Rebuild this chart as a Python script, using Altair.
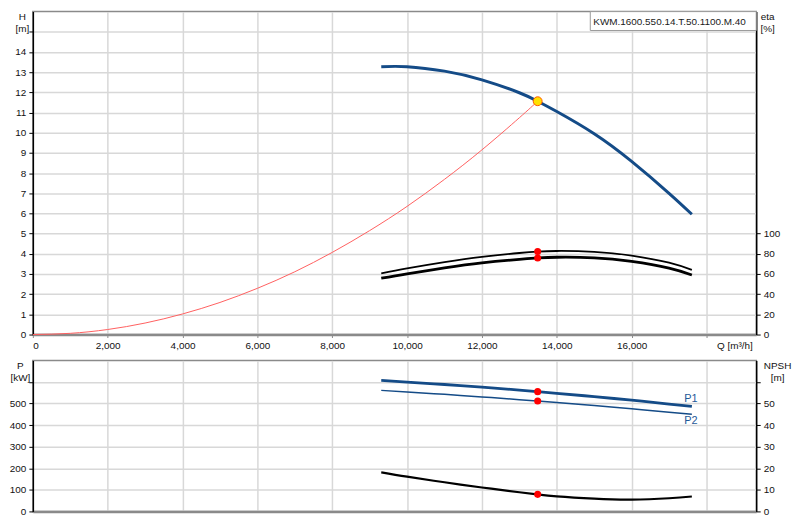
import altair as alt
import pandas as pd

# ---- data ----
Q = [9310, 10000, 11000, 12000, 13000, 13490, 14000, 15000, 16000, 17000, 17610]
H = [13.27, 13.27, 13.05, 12.62, 11.98, 11.56, 11.05, 9.95, 8.58, 7.0, 5.96]
ETA1 = [60.7, 65.6, 71.8, 77.0, 80.8, 82.2, 82.8, 82.0, 78.2, 71.2, 64.0]
ETA2 = [55.8, 60.2, 66.0, 71.0, 74.5, 75.8, 76.6, 76.0, 72.4, 65.8, 59.0]
P1 = [607, 599.7, 588.2, 575.7, 562.2, 555.2, 547.6, 532.0, 515.4, 497.7, 486.4]
P2 = [561, 553.7, 542.6, 530.7, 518.0, 511.5, 504.6, 490.5, 475.6, 459.9, 450]
NPSH = [18.1, 16.1, 13.5, 11.1, 8.9, 7.9, 7.0, 5.9, 5.45, 6.1, 6.9]

Q_SYS = [0, 1000, 2000, 3000, 4000, 5000, 6000, 7000, 8000, 9000, 10000, 11000, 12000, 13000, 13490]
H_SYS = [0, 0.06, 0.25, 0.57, 1.02, 1.59, 2.29, 3.11, 4.07, 5.15, 6.35, 7.69, 9.15, 10.74, 11.56]

Q_DUTY = [13490]
H_DUTY = [11.56]
ETA_DUTY = [82.2, 75.8]
P_DUTY = [555.2, 511.5]
NPSH_DUTY = [7.9]

SERIES_LABELS = ["P1", "P2"]
MODEL = "KWM.1600.550.14.T.50.1100.M.40"

X_TICKS = [0, 2000, 4000, 6000, 8000, 10000, 12000, 14000, 16000, 18000]
H_TICKS = list(range(0, 16))
ETA_TICKS = [0, 20, 40, 60, 80, 100]
P_TICKS = [0, 100, 200, 300, 400, 500, 600]
NPSH_TICKS = [0, 10, 20, 30, 40, 50, 60]

# ---- layout ----
W = 728
TOP_H = 325
BOT_H = 152
XMAX = 19330
FONT = "Liberation Sans"
BLUE = "#144b87"
INTERP = "natural"

curve = pd.DataFrame({"Q": Q, "H": H, "eta1": ETA1, "eta2": ETA2,
                      "P1": P1, "P2": P2, "NPSH": NPSH})
sysdf = pd.DataFrame({"Q": Q_SYS, "H": H_SYS})
duty = pd.DataFrame({"Q": Q_DUTY, "H": H_DUTY})
eta_duty = pd.DataFrame({"Q": Q_DUTY * 2, "eta": ETA_DUTY})
p_duty = pd.DataFrame({"Q": Q_DUTY * 2, "P": P_DUTY})
npsh_duty = pd.DataFrame({"Q": Q_DUTY, "NPSH": NPSH_DUTY})
model_df = pd.DataFrame({"t": [MODEL]})
last = curve.iloc[[-1]]
p1_lab = pd.DataFrame({"Q": last["Q"].values, "P": last["P1"].values, "t": [SERIES_LABELS[0]]})
p2_lab = pd.DataFrame({"Q": last["Q"].values, "P": last["P2"].values, "t": [SERIES_LABELS[1]]})

xscale = alt.Scale(domain=[0, XMAX], nice=False, zero=False)

x_axis_top = alt.Axis(values=X_TICKS,
                      labelExpr="datum.value == 18000 ? '' : format(datum.value, ',')",
                      title="Q [m³/h]", titleX=W - 22, titleY=6, titleBaseline="top",
                      titleAlign="center", titleAnchor="start",
                      domainColor="#8a8a8a", domainWidth=2.5, tickColor="#8a8a8a",
                      tickSize=3, labelPadding=3, grid=True)
x_axis_bot = alt.Axis(values=X_TICKS, labels=False, ticks=False, title=None,
                      domainColor="#8a8a8a", domainWidth=2.5, grid=True)

def ax_left(ticks, title, tx):
    top = ticks[-1]
    return alt.Axis(values=ticks, labelExpr=f"datum.value == {top} ? '' : datum.label",
                    title=title, titleAngle=0, titleAlign="center", titleBaseline="top",
                    titleX=tx, titleY=0, titleLineHeight=12, titleAnchor="start",
                    domainColor="#000", domainWidth=1.5, tickColor="#000",
                    tickSize=4, labelPadding=3, grid=True, orient="left")

def ax_right(ticks, title, tx, hide_top):
    expr = f"datum.value == {ticks[-1]} ? '' : datum.label" if hide_top else "datum.label"
    return alt.Axis(values=ticks, labelExpr=expr,
                    title=title, titleAngle=0, titleAlign="center", titleBaseline="top",
                    titleX=tx, titleY=0, titleLineHeight=12, titleAnchor="start",
                    domainColor="#000", domainWidth=1.5, tickColor="#000",
                    tickSize=4, labelPadding=3, grid=False, orient="right")

h_axis = ax_left(H_TICKS, ["H", "[m]"], -11)
eta_axis = ax_right(ETA_TICKS, ["eta", "[%]"], 11, False)
p_axis = ax_left(P_TICKS, ["P", "[kW]"], -13)
npsh_axis = ax_right(NPSH_TICKS, ["NPSH", "[m]"], 21, True)

hs = alt.Scale(domain=[0, 16], nice=False)
es = alt.Scale(domain=[0, 320], nice=False)
ps = alt.Scale(domain=[0, 700], nice=False)
ns = alt.Scale(domain=[0, 70], nice=False)

xt = alt.X("Q:Q", scale=xscale, axis=x_axis_top)
xb = alt.X("Q:Q", scale=xscale, axis=x_axis_bot)

# ---- top panel ----
h_line = alt.Chart(curve).mark_line(color=BLUE, strokeWidth=3, interpolate=INTERP).encode(
    x=xt, y=alt.Y("H:Q", scale=hs, axis=h_axis))
sys_line = alt.Chart(sysdf).mark_line(color="#ff6060", strokeWidth=1, interpolate=INTERP).encode(
    x=xt, y=alt.Y("H:Q", scale=hs, axis=h_axis))
duty_pt = alt.Chart(duty).mark_point(filled=True, size=80, fill="#ffe100", stroke="#ff5a00",
                                     strokeWidth=1, opacity=1).encode(
    x=xt, y=alt.Y("H:Q", scale=hs, axis=h_axis))
h_group = alt.layer(h_line, sys_line, duty_pt)

eta1_line = alt.Chart(curve).mark_line(color="#000", strokeWidth=1.8, interpolate=INTERP).encode(
    x=xt, y=alt.Y("eta1:Q", scale=es, axis=eta_axis))
eta2_line = alt.Chart(curve).mark_line(color="#000", strokeWidth=2.8, interpolate=INTERP).encode(
    x=xt, y=alt.Y("eta2:Q", scale=es, axis=eta_axis))
eta_pts = alt.Chart(eta_duty).mark_circle(color="#ff0000", size=50, opacity=1).encode(
    x=xt, y=alt.Y("eta:Q", scale=es, axis=eta_axis))
eta_group = alt.layer(eta1_line, eta2_line, eta_pts)

box = alt.Chart(model_df).mark_rect(fill="white", stroke="#9a9a9a", strokeWidth=1).encode(
    x=alt.value(W - 167), x2=alt.value(W), y=alt.value(0), y2=alt.value(19))
box_txt = alt.Chart(model_df).mark_text(align="left", baseline="middle", font=FONT,
                                         fontSize=10, color="#1a1a1a").encode(
    x=alt.value(W - 164), y=alt.value(10), text="t:N")

top = alt.layer(h_group, eta_group, box, box_txt).resolve_scale(y="independent").properties(
    width=W, height=TOP_H)

# ---- bottom panel ----
p1_line = alt.Chart(curve).mark_line(color=BLUE, strokeWidth=2.8, interpolate=INTERP).encode(
    x=xb, y=alt.Y("P1:Q", scale=ps, axis=p_axis))
p2_line = alt.Chart(curve).mark_line(color=BLUE, strokeWidth=1.5, interpolate=INTERP).encode(
    x=xb, y=alt.Y("P2:Q", scale=ps, axis=p_axis))
p_pts = alt.Chart(p_duty).mark_circle(color="#ff0000", size=50, opacity=1).encode(
    x=xb, y=alt.Y("P:Q", scale=ps, axis=p_axis))
p1_t = alt.Chart(p1_lab).mark_text(align="center", baseline="middle", dy=-8, dx=-1, font=FONT,
                                   fontSize=11, color="#1f5a99").encode(
    x=xb, y=alt.Y("P:Q", scale=ps, axis=p_axis), text="t:N")
p2_t = alt.Chart(p2_lab).mark_text(align="center", baseline="middle", dy=7, dx=-1, font=FONT,
                                   fontSize=11, color="#1f5a99").encode(
    x=xb, y=alt.Y("P:Q", scale=ps, axis=p_axis), text="t:N")
p_group = alt.layer(p1_line, p2_line, p_pts, p1_t, p2_t)

npsh_line = alt.Chart(curve).mark_line(color="#000", strokeWidth=2.2, interpolate=INTERP).encode(
    x=xb, y=alt.Y("NPSH:Q", scale=ns, axis=npsh_axis))
npsh_pt = alt.Chart(npsh_duty).mark_circle(color="#ff0000", size=50, opacity=1).encode(
    x=xb, y=alt.Y("NPSH:Q", scale=ns, axis=npsh_axis))
n_group = alt.layer(npsh_line, npsh_pt)

bottom = alt.layer(p_group, n_group).resolve_scale(y="independent").properties(
    width=W, height=BOT_H)

chart = alt.vconcat(top, bottom, spacing=26, bounds="flush").properties(
    padding=0, background="white"
).configure_view(stroke="#8a8a8a", strokeWidth=1.5).configure_axis(
    labelFont=FONT, labelFontSize=10, labelColor="#111",
    titleFont=FONT, titleFontSize=10, titleFontWeight="normal", titleColor="#111",
    gridColor="#d8d8d8", gridWidth=1.5
)

chart.save("out.html", embed_options={"renderer": "svg", "actions": False})
